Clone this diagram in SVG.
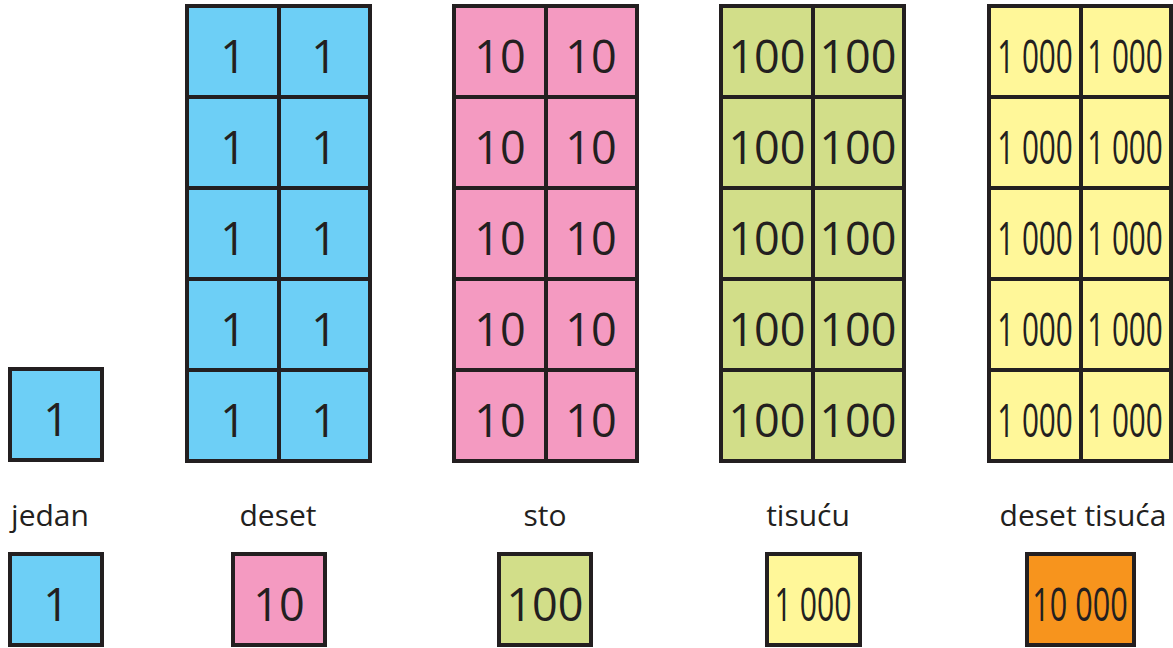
<svg xmlns="http://www.w3.org/2000/svg" width="1173" height="648" viewBox="0 0 1173 648">
<style>
rect{stroke:#231f20;stroke-width:4}
.b{fill:#6dcff6}.p{fill:#f49ac1}.g{fill:#d2de89}.y{fill:#fff799}.o{fill:#f7941d}
text{font-family:"Open Sans","Noto Sans",sans-serif;fill:#231f20;text-anchor:middle}
.n{font-size:45px}
.l{font-size:30px}
</style>
<rect width="1173" height="648" fill="#fff" style="stroke:none"/>
<g id="single-one">
<rect class="b" x="10" y="369" width="92" height="91"/>
<text class="n" x="56" y="436">1</text>
</g>
<g id="grid-deset">
<rect class="b" x="187" y="6" width="92" height="91"/><rect class="b" x="279" y="6" width="91" height="91"/>
<rect class="b" x="187" y="97" width="92" height="91"/><rect class="b" x="279" y="97" width="91" height="91"/>
<rect class="b" x="187" y="188" width="92" height="91"/><rect class="b" x="279" y="188" width="91" height="91"/>
<rect class="b" x="187" y="279" width="92" height="91"/><rect class="b" x="279" y="279" width="91" height="91"/>
<rect class="b" x="187" y="370" width="92" height="91"/><rect class="b" x="279" y="370" width="91" height="91"/>
<text class="n" x="233" y="73">1</text><text class="n" x="324" y="73">1</text>
<text class="n" x="233" y="164">1</text><text class="n" x="324" y="164">1</text>
<text class="n" x="233" y="255">1</text><text class="n" x="324" y="255">1</text>
<text class="n" x="233" y="346">1</text><text class="n" x="324" y="346">1</text>
<text class="n" x="233" y="437">1</text><text class="n" x="324" y="437">1</text>
</g>
<g id="grid-sto">
<rect class="p" x="454" y="6" width="92" height="91"/><rect class="p" x="546" y="6" width="91" height="91"/>
<rect class="p" x="454" y="97" width="92" height="91"/><rect class="p" x="546" y="97" width="91" height="91"/>
<rect class="p" x="454" y="188" width="92" height="91"/><rect class="p" x="546" y="188" width="91" height="91"/>
<rect class="p" x="454" y="279" width="92" height="91"/><rect class="p" x="546" y="279" width="91" height="91"/>
<rect class="p" x="454" y="370" width="92" height="91"/><rect class="p" x="546" y="370" width="91" height="91"/>
<text class="n" x="500" y="73">10</text><text class="n" x="591" y="73">10</text>
<text class="n" x="500" y="164">10</text><text class="n" x="591" y="164">10</text>
<text class="n" x="500" y="255">10</text><text class="n" x="591" y="255">10</text>
<text class="n" x="500" y="346">10</text><text class="n" x="591" y="346">10</text>
<text class="n" x="500" y="437">10</text><text class="n" x="591" y="437">10</text>
</g>
<g id="grid-tisucu">
<rect class="g" x="721" y="6" width="92" height="91"/><rect class="g" x="813" y="6" width="91" height="91"/>
<rect class="g" x="721" y="97" width="92" height="91"/><rect class="g" x="813" y="97" width="91" height="91"/>
<rect class="g" x="721" y="188" width="92" height="91"/><rect class="g" x="813" y="188" width="91" height="91"/>
<rect class="g" x="721" y="279" width="92" height="91"/><rect class="g" x="813" y="279" width="91" height="91"/>
<rect class="g" x="721" y="370" width="92" height="91"/><rect class="g" x="813" y="370" width="91" height="91"/>
<text class="n" x="767" y="73">100</text><text class="n" x="858" y="73">100</text>
<text class="n" x="767" y="164">100</text><text class="n" x="858" y="164">100</text>
<text class="n" x="767" y="255">100</text><text class="n" x="858" y="255">100</text>
<text class="n" x="767" y="346">100</text><text class="n" x="858" y="346">100</text>
<text class="n" x="767" y="437">100</text><text class="n" x="858" y="437">100</text>
</g>
<g id="grid-deset-tisuca">
<rect class="y" x="989" y="6" width="92" height="91"/><rect class="y" x="1081" y="6" width="90" height="91"/>
<rect class="y" x="989" y="97" width="92" height="91"/><rect class="y" x="1081" y="97" width="90" height="91"/>
<rect class="y" x="989" y="188" width="92" height="91"/><rect class="y" x="1081" y="188" width="90" height="91"/>
<rect class="y" x="989" y="279" width="92" height="91"/><rect class="y" x="1081" y="279" width="90" height="91"/>
<rect class="y" x="989" y="370" width="92" height="91"/><rect class="y" x="1081" y="370" width="90" height="91"/>
<text class="n" transform="translate(1035 73) scale(0.66 1)">1 000</text><text class="n" transform="translate(1125 73) scale(0.66 1)">1 000</text>
<text class="n" transform="translate(1035 164) scale(0.66 1)">1 000</text><text class="n" transform="translate(1125 164) scale(0.66 1)">1 000</text>
<text class="n" transform="translate(1035 255) scale(0.66 1)">1 000</text><text class="n" transform="translate(1125 255) scale(0.66 1)">1 000</text>
<text class="n" transform="translate(1035 346) scale(0.66 1)">1 000</text><text class="n" transform="translate(1125 346) scale(0.66 1)">1 000</text>
<text class="n" transform="translate(1035 437) scale(0.66 1)">1 000</text><text class="n" transform="translate(1125 437) scale(0.66 1)">1 000</text>
</g>
<g id="labels">
<text class="l" x="50" y="526">jedan</text>
<text class="l" x="278" y="526">deset</text>
<text class="l" x="545" y="526">sto</text>
<text class="l" x="808" y="526">tisuću</text>
<text class="l" x="1083" y="526">deset tisuća</text>
</g>
<g id="unit-1">
<rect class="b" x="10" y="554" width="92" height="91"/>
<text class="n" x="56" y="621">1</text>
</g>
<g id="unit-10">
<rect class="p" x="233" y="554" width="92" height="91"/>
<text class="n" x="279" y="621">10</text>
</g>
<g id="unit-100">
<rect class="g" x="499" y="554" width="92" height="91"/>
<text class="n" x="545" y="621">100</text>
</g>
<g id="unit-1000">
<rect class="y" x="767" y="554" width="93" height="91"/>
<text class="n" transform="translate(813 621) scale(0.67 1)">1 000</text>
</g>
<g id="unit-10000">
<rect class="o" x="1027" y="554" width="107" height="91"/>
<text class="n" transform="translate(1080 621) scale(0.68 1)">10 000</text>
</g>
</svg>
